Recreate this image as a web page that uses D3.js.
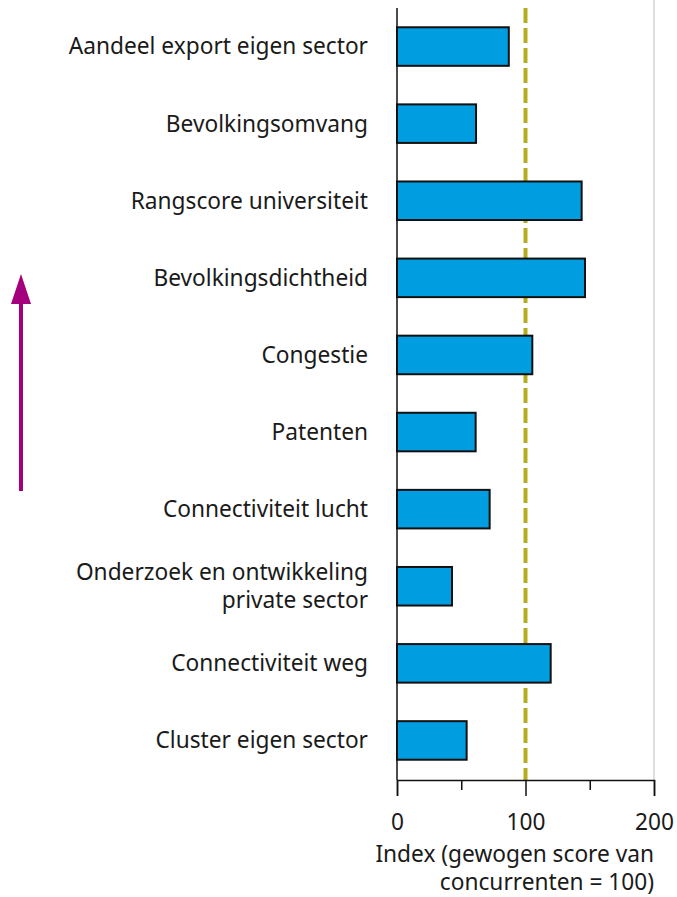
<!DOCTYPE html>
<html>
<head>
<meta charset="utf-8">
<script src="https://cdn.jsdelivr.net/npm/d3@7"></script>
<style>
  body { margin: 0; background: #fff; }
  text { font-family: "Noto Sans", sans-serif; fill: #1a1a1a; }
</style>
</head>
<body>
<svg width="677" height="897"></svg>
<script>
var categories = ["Aandeel export eigen sector", "Bevolkingsomvang", "Rangscore universiteit",
    "Bevolkingsdichtheid", "Congestie", "Patenten", "Connectiviteit lucht",
    "Onderzoek en ontwikkeling|private sector", "Connectiviteit weg", "Cluster eigen sector"];
var values = [87, 61.5, 143.7, 146.3, 105.3, 61.2, 72.1, 42.8, 119.6, 54.2];
var tickValues = [0, 50, 100, 150, 200];
var tickLabels = [0, 100, 200];
var reference = 100;

var svg = d3.select("svg"),
    mLeft = 397, mRight = 654, mTop = 8, mBottom = 780,
    fontSize = "22.7px";

var x = d3.scaleLinear().domain([0, 200]).range([mLeft, mRight]);
var y = d3.scaleBand().domain(categories).range([mTop, mBottom - 1]).paddingInner(0.5).paddingOuter(0.25);

// light gridline at 200
svg.append("line")
    .attr("x1", x(200)).attr("x2", x(200))
    .attr("y1", 0).attr("y2", mBottom)
    .attr("stroke", "#d4d4d4").attr("stroke-width", 1.5);

// reference line at 100 (behind the bars)
svg.append("line")
    .attr("x1", x(reference)).attr("x2", x(reference))
    .attr("y1", mTop).attr("y2", mBottom)
    .attr("stroke", "#b5ae1c").attr("stroke-width", 4)
    .attr("stroke-dasharray", "15,5");

// bars
svg.selectAll(".bar")
    .data(values)
    .enter().append("rect")
    .attr("class", "bar")
    .attr("x", x(0))
    .attr("y", (d, i) => y(categories[i]))
    .attr("width", d => x(d) - x(0))
    .attr("height", y.bandwidth())
    .attr("fill", "#009ee0")
    .attr("stroke", "#111")
    .attr("stroke-width", 2);

// y axis line
svg.append("line")
    .attr("x1", x(0)).attr("x2", x(0))
    .attr("y1", mTop).attr("y2", mBottom)
    .attr("stroke", "#111").attr("stroke-width", 1.5);

// x axis
var xAxis = svg.append("g")
    .attr("transform", "translate(0," + mBottom + ")")
    .call(d3.axisBottom(x).tickValues(tickValues).tickSize(16)
        .tickFormat(d => tickLabels.includes(d) ? d : ""));
xAxis.select(".domain").attr("stroke", "#111").attr("stroke-width", 1.5);
xAxis.selectAll(".tick line").attr("stroke", "#111").attr("stroke-width", 1.5)
    .attr("y2", (d) => tickLabels.includes(d) ? 16 : 10);
xAxis.selectAll(".tick text")
    .attr("y", 42).attr("dy", "0.35em")
    .style("font-size", fontSize).style("font-family", "Noto Sans, sans-serif").attr("fill", "#1a1a1a");

// category labels
svg.selectAll(".label")
    .data(categories)
    .enter().append("text")
    .attr("class", "label")
    .attr("text-anchor", "end")
    .attr("x", mLeft - 29)
    .attr("y", d => y(d) + y.bandwidth() / 2)
    .style("font-size", fontSize)
    .each(function (d) {
        var lines = d.split("|"), t = d3.select(this);
        lines.forEach((l, i) => {
            t.append("tspan").attr("x", mLeft - 29)
                .attr("dy", i == 0 ? (0.35 - (lines.length - 1) * 0.62) + "em" : "1.24em")
                .text(l);
        });
    });

// axis title
svg.append("text").attr("text-anchor", "end").attr("x", mRight).attr("y", 862)
    .style("font-size", fontSize).text("Index (gewogen score van");
svg.append("text").attr("text-anchor", "end").attr("x", mRight).attr("y", 890)
    .style("font-size", fontSize).text("concurrenten = 100)");

// arrow
svg.append("line")
    .attr("x1", 21).attr("x2", 21).attr("y1", 491).attr("y2", 300)
    .attr("stroke", "#a4007d").attr("stroke-width", 4);
svg.append("path")
    .attr("d", "M21,274 L31,304 L11,304 Z")
    .attr("fill", "#a4007d");
</script>
</body>
</html>
